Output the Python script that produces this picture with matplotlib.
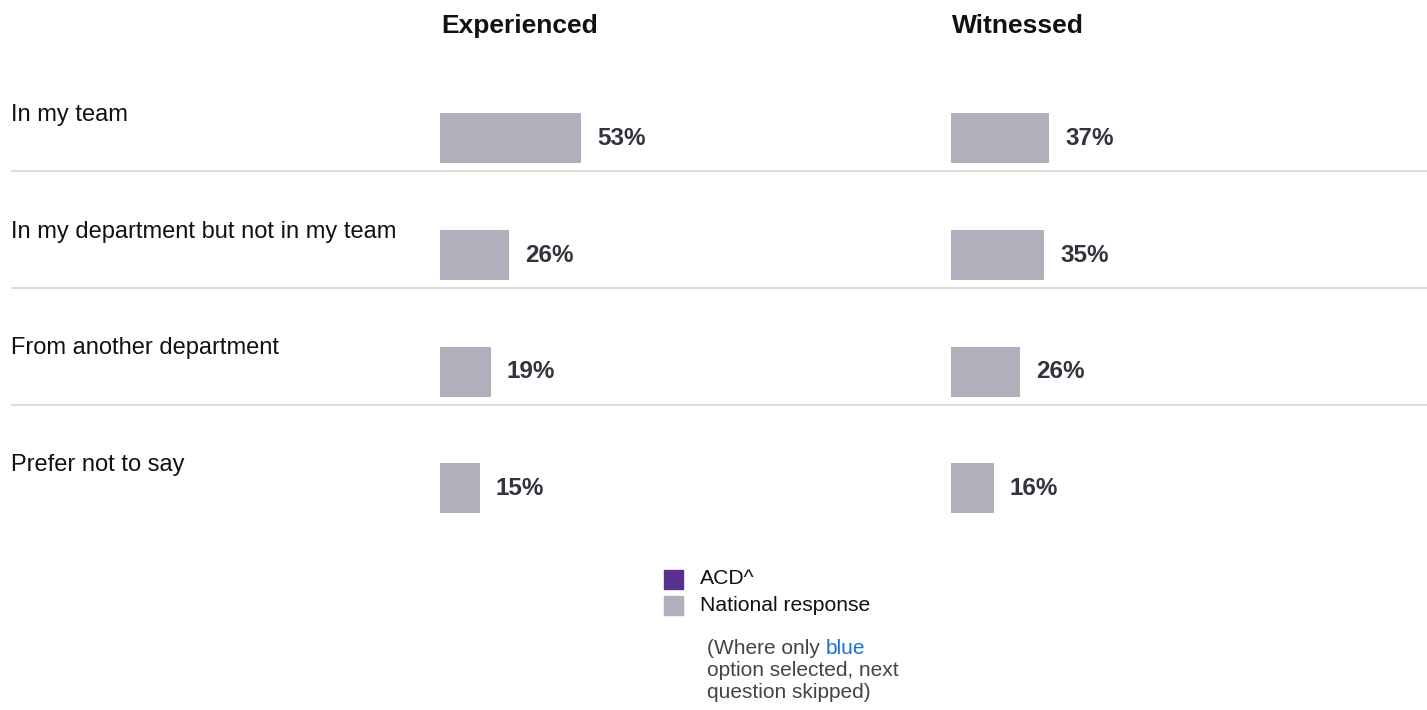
import matplotlib
matplotlib.use("Agg")
import matplotlib.pyplot as plt
from matplotlib.patches import Rectangle

plt.rcParams['font.family'] = ['Liberation Sans', 'DejaVu Sans']

categories = ["In my team", "In my department but not in my team",
              "From another department", "Prefer not to say"]
panels = ["Experienced", "Witnessed"]
experienced = [53, 26, 19, 15]
witnessed = [37, 35, 26, 16]

BAR_COLOR = '#b0afbc'
ACD_COLOR = '#5b3190'
TEXT_DARK = '#33333d'

W, H = 1427, 710
fig = plt.figure(figsize=(W / 100, H / 100), dpi=100)

# rows band in pixels (top of figure = 0)
row_top, row_h = 80, 116.7
band_h = row_h * 4


def px_axes(x0, y0, w, h):
    return fig.add_axes([x0 / W, 1 - (y0 + h) / H, w / W, h / H])


# background axes for row labels and separators
bg = px_axes(0, row_top, W, band_h)
bg.set_xlim(0, W)
bg.set_ylim(3.5, -0.5)
bg.axis('off')
for i, cat in enumerate(categories):
    bg.text(11, i - 0.2, cat, fontsize=17, color='#111111', va='center', ha='left')
    if i < len(categories) - 1:
        bg.plot([11, W], [i + 0.283, i + 0.283], color='#dcdcdc', lw=1.5, solid_capstyle='butt')

# one bar axes per panel, 2.66 px per percentage point
px_per_pct = 2.66
for x0, name, vals in [(440, panels[0], experienced), (951, panels[1], witnessed)]:
    ax = px_axes(x0, row_top, 100 * px_per_pct, band_h)
    ax.set_xlim(0, 100)
    ax.set_ylim(3.5, -0.5)
    ax.axis('off')
    ax.barh(range(len(vals)), vals, height=50 / row_h, left=0, color=BAR_COLOR)
    for i, v in enumerate(vals):
        ax.text(v + 16 / px_per_pct, i, f"{v}%", fontsize=17.5, fontweight='bold',
                color=TEXT_DARK, va='center', ha='left', clip_on=False)
    fig.text((x0 + 1) / W, 1 - 26 / H, name, fontsize=19, fontweight='bold',
             color='#111111', va='center', ha='left')

# legend
for y, col, lab in [(579, ACD_COLOR, "ACD^"), (605.5, BAR_COLOR, "National response")]:
    fig.patches.append(Rectangle((664 / W, 1 - (y + 9.5) / H), 19 / W, 19 / H,
                                 transform=fig.transFigure, color=col))
    fig.text(700 / W, 1 - y / H, lab, fontsize=15.2, color='#111111', va='center', ha='left')

# footnote
note_x = 707
t = fig.text(note_x / W, 1 - 649 / H, "(Where only ", fontsize=15, color='#444444',
             va='center', ha='left')
fig.canvas.draw()
bb = t.get_window_extent()
fig.text(bb.x1 / W, 1 - 649 / H, "blue", fontsize=15, color='#1a6fd6', va='center', ha='left')
fig.text(note_x / W, 1 - 671 / H, "option selected, next", fontsize=15, color='#444444',
         va='center', ha='left')
fig.text(note_x / W, 1 - 693 / H, "question skipped)", fontsize=15, color='#444444',
         va='center', ha='left')

fig.savefig("out.png", dpi=100, facecolor='white')
